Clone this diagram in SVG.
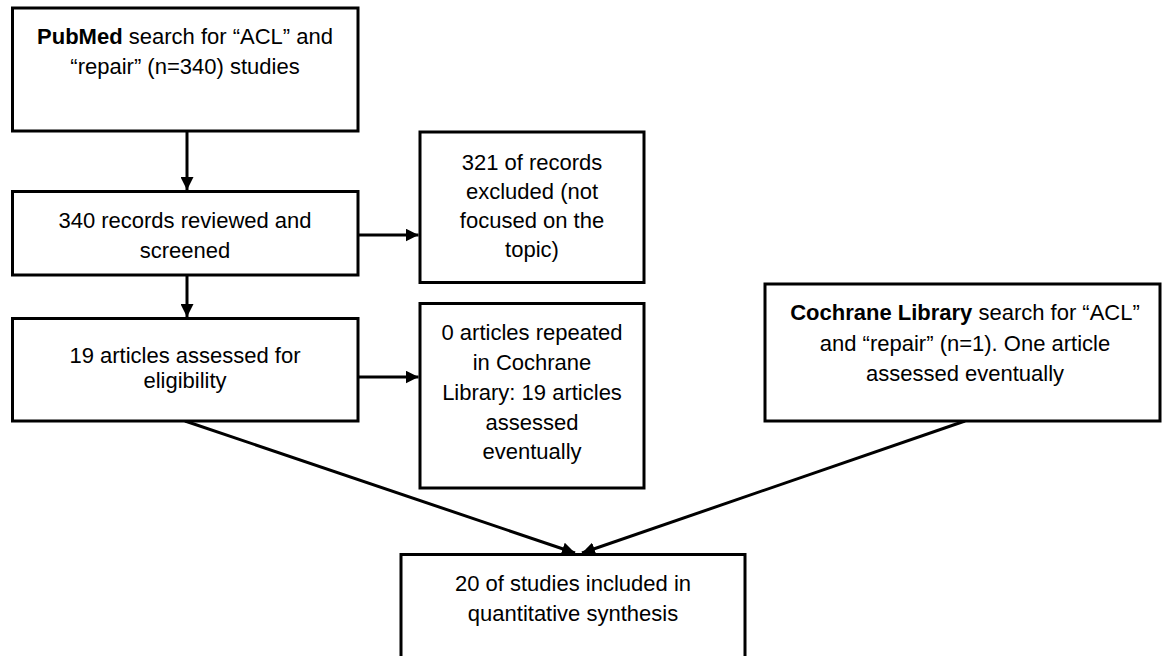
<svg xmlns="http://www.w3.org/2000/svg" width="1164" height="656" viewBox="0 0 1164 656">
  <style>
    .box { fill: #ffffff; stroke: #000000; stroke-width: 3; }
    .t { font-family: "Liberation Sans", Arial, sans-serif; font-size: 22px; fill: #000000; text-anchor: middle; }
    .b { font-weight: bold; }
    .c { stroke: #000000; stroke-width: 3; fill: none; marker-end: url(#ah); }
  </style>
  <defs>
    <marker id="ah" viewBox="0 0 10 10" refX="10" refY="5" markerWidth="13" markerHeight="13" markerUnits="userSpaceOnUse" orient="auto">
      <path d="M0,0 L10,5 L0,10 z" fill="#000000"/>
    </marker>
  </defs>
  <rect width="1164" height="656" fill="#ffffff"/>

  <g id="connectors">
    <line class="c" x1="187" y1="131" x2="187" y2="190"/>
    <line class="c" x1="187" y1="275" x2="187" y2="317"/>
    <line class="c" x1="358" y1="235" x2="418.5" y2="235"/>
    <line class="c" x1="358" y1="377" x2="418.5" y2="377"/>
    <line class="c" x1="185" y1="421" x2="575" y2="553"/>
    <line class="c" x1="965" y1="421" x2="582" y2="553"/>
  </g>

  <g id="pubmed">
    <rect class="box" x="12.5" y="8" width="345.5" height="123"/>
    <text class="t" x="185" y="44"><tspan class="b">PubMed</tspan> search for “ACL” and</text>
    <text class="t" x="185" y="74">“repair” (n=340) studies</text>
  </g>

  <g id="screened">
    <rect class="box" x="12.5" y="191.5" width="345.5" height="83.5"/>
    <text class="t" x="185" y="228">340 records reviewed and</text>
    <text class="t" x="185" y="258">screened</text>
  </g>

  <g id="eligibility">
    <rect class="box" x="12.5" y="318.5" width="345.5" height="102.5"/>
    <text class="t" x="185" y="363">19 articles assessed for</text>
    <text class="t" x="185" y="388">eligibility</text>
  </g>

  <g id="excluded">
    <rect class="box" x="420" y="132" width="224" height="150.5"/>
    <text class="t" x="532" y="170">321 of records</text>
    <text class="t" x="532" y="199">excluded (not</text>
    <text class="t" x="532" y="228">focused on the</text>
    <text class="t" x="532" y="257">topic)</text>
  </g>

  <g id="repeated">
    <rect class="box" x="420" y="303.5" width="224" height="184.5"/>
    <text class="t" x="532" y="340">0 articles repeated</text>
    <text class="t" x="532" y="370">in Cochrane</text>
    <text class="t" x="532" y="400">Library: 19 articles</text>
    <text class="t" x="532" y="430">assessed</text>
    <text class="t" x="532" y="459">eventually</text>
  </g>

  <g id="cochrane">
    <rect class="box" x="765" y="284" width="395" height="137"/>
    <text class="t" x="965" y="320"><tspan class="b">Cochrane Library</tspan> search for “ACL”</text>
    <text class="t" x="965" y="351">and “repair” (n=1). One article</text>
    <text class="t" x="965" y="381">assessed eventually</text>
  </g>

  <g id="included">
    <rect class="box" x="401" y="554.5" width="344" height="110"/>
    <text class="t" x="573" y="591">20 of studies included in</text>
    <text class="t" x="573" y="621">quantitative synthesis</text>
  </g>
</svg>
